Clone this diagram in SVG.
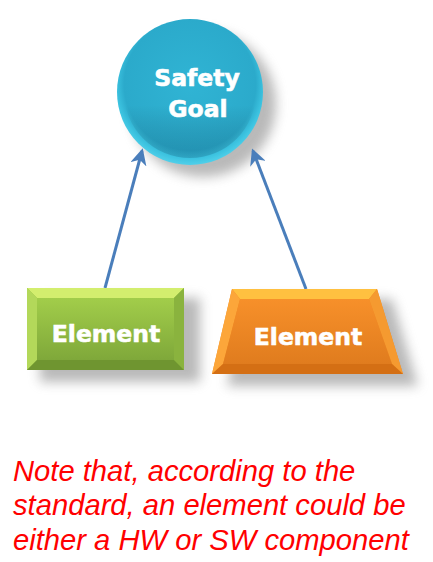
<svg xmlns="http://www.w3.org/2000/svg" width="433" height="562" viewBox="0 0 433 562">
<style>
.lbl{font-family:"DejaVu Sans",Verdana,sans-serif;font-weight:bold;fill:#ffffff;text-anchor:middle;stroke:#ffffff;stroke-width:0.6}
.note{font-family:"Liberation Sans",Arial,sans-serif;font-style:italic;font-size:29.2px;fill:#ff0000}
.conn{stroke:#4a7ebb;stroke-width:3;fill:none;marker-end:url(#ah)}
</style>
<defs>
<filter id="sh" x="-30%" y="-30%" width="160%" height="160%">
<feGaussianBlur stdDeviation="6"/>
</filter>
<radialGradient id="cg" cx="0.5" cy="0.45" r="0.55">
<stop offset="0" stop-color="#30b4d4"/>
<stop offset="0.82" stop-color="#2baacb"/>
<stop offset="0.92" stop-color="#3cc3e0"/>
<stop offset="1" stop-color="#50d0ea"/>
</radialGradient>
<linearGradient id="cshade" x1="0" y1="0" x2="0" y2="1">
<stop offset="0" stop-color="#000" stop-opacity="0"/>
<stop offset="0.6" stop-color="#000" stop-opacity="0"/>
<stop offset="1" stop-color="#003050" stop-opacity="0.2"/>
</linearGradient>
<linearGradient id="gface" x1="0" y1="0" x2="0" y2="1">
<stop offset="0" stop-color="#a2cd4a"/>
<stop offset="1" stop-color="#7fa83a"/>
</linearGradient>
<linearGradient id="oface" x1="0" y1="0" x2="0" y2="1">
<stop offset="0" stop-color="#f7902a"/>
<stop offset="1" stop-color="#e07c1e"/>
</linearGradient>
<marker id="ah" viewBox="0 0 12 12" refX="10" refY="6" markerWidth="5.5" markerHeight="5.5" orient="auto" markerUnits="strokeWidth">
<path d="M0,0 L12,6 L0,12 L3.5,6 z" fill="#4a7ebb"/>
</marker>
</defs>
<g id="shadows" fill="#808080" opacity="0.55" filter="url(#sh)">
<circle cx="203" cy="104" r="73"/>
<rect x="40" y="298" width="160" height="84"/>
<polygon points="247,299 392,299 418,386 227,386"/>
</g>
<g id="connectors">
<line class="conn" x1="105" y1="288" x2="142" y2="151"/>
<line class="conn" x1="306" y1="289" x2="253" y2="151"/>
</g>
<g id="safety-goal">
<circle cx="190" cy="92" r="73" fill="url(#cg)"/>
<circle cx="190" cy="92" r="66" fill="url(#cshade)"/>
<text class="lbl" x="197" y="86" font-size="23.5">Safety</text>
<text class="lbl" x="198" y="117" font-size="23.5">Goal</text>
</g>
<g id="element-hw">
<rect x="27" y="288" width="157" height="82" fill="#8fbb3c"/>
<polygon points="27,288 184,288 174,298 37,298" fill="#d3ee6e"/>
<polygon points="27,288 37,298 37,360 27,370" fill="#b3d85a"/>
<polygon points="184,288 174,298 174,360 184,370" fill="#8ab33e"/>
<polygon points="27,370 37,360 174,360 184,370" fill="#6f9530"/>
<rect x="37" y="298" width="137" height="62" fill="url(#gface)"/>
<text class="lbl" x="106" y="342" font-size="23.5">Element</text>
</g>
<g id="element-sw">
<polygon points="232,289 377,289 403,374 212,374" fill="#f08a22"/>
<polygon points="232,289 377,289 369,299 240,299" fill="#ffc040"/>
<polygon points="232,289 240,299 223,364 212,374" fill="#fca63a"/>
<polygon points="377,289 369,299 392,364 403,374" fill="#f59a30"/>
<polygon points="212,374 223,364 392,364 403,374" fill="#d46f14"/>
<polygon points="240,299 369,299 392,364 223,364" fill="url(#oface)"/>
<text class="lbl" x="308" y="345" font-size="23.5">Element</text>
</g>
<g id="note">
<text class="note" x="13" y="481">Note that, according to the</text>
<text class="note" x="13" y="515">standard, an element could be</text>
<text class="note" x="13" y="550">either a HW or SW component</text>
</g>
</svg>
